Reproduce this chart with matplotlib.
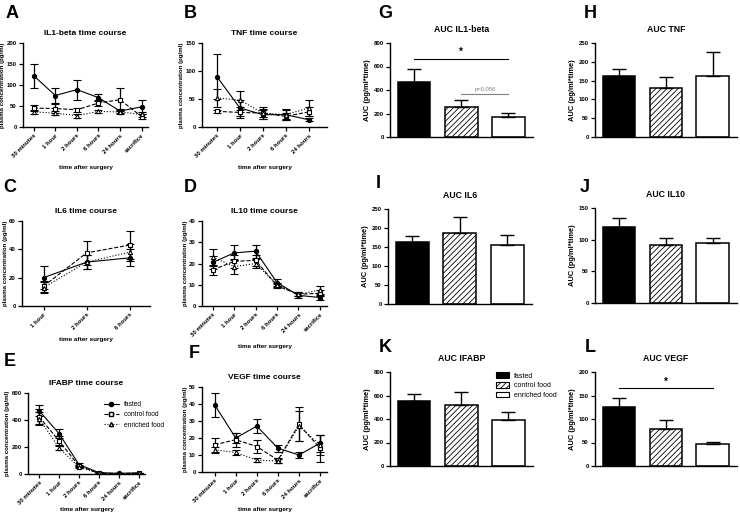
import matplotlib
matplotlib.use('Agg')
import matplotlib.pyplot as plt
from matplotlib.lines import Line2D
from matplotlib.patches import Patch
import numpy as np

plt.rcParams['font.family'] = ['Liberation Sans', 'DejaVu Sans']
plt.rcParams['font.weight'] = 'bold'
plt.rcParams['axes.titleweight'] = 'bold'
plt.rcParams['axes.labelweight'] = 'bold'
plt.rcParams['hatch.linewidth'] = 0.6

W, H = 740, 515

groups = ['fasted', 'control food', 'enriched food']
times6 = ['30 minutes', '1 hour', '2 hours', '6 hours', '24 hours', 'sacrifice']
times5 = ['30 minutes', '1 hour', '2 hours', '6 hours', '24 hours']
times3 = ['1 hour', '2 hours', '6 hours']

# time courses: mean and SEM per group (fasted, control, enriched)
il1b_mean = [[122, 75, 89, 70, 38, 48], [45, 44, 41, 57, 65, 25], [36, 33, 27, 37, 36, 30]]
il1b_err = [[29, 18, 24, 9, 5, 16], [8, 11, 5, 7, 27, 6], [4, 4, 5, 4, 5, 5]]
tnf_mean = [[90, 34, 22, 22, 13], [28, 26, 25, 19, 27], [52, 48, 25, 22, 34]]
tnf_err = [[40, 15, 8, 8, 3], [3, 10, 8, 6, 8], [16, 17, 10, 10, 14]]
il6_mean = [[20, 31, 34], [14, 37.5, 43], [13, 31, 38]]
il6_err = [[8, 5, 6], [4, 8.5, 10], [4, 5, 6]]
il10_mean = [[20.5, 25, 25.8, 11, 5, 4], [17, 21, 21.5, 9.5, 5.5, 6], [23, 18.5, 20, 10, 5.5, 7.5]]
il10_err = [[3, 3.5, 3, 1.5, 1, 1], [2.5, 3, 2.5, 1, 1, 1.5], [4, 3.5, 2, 1, 1, 2]]
ifabp_mean = [[470, 300, 70, 10, 5, 8], [425, 245, 60, 5, 3, 6], [410, 195, 50, 5, 3, 5]]
ifabp_err = [[40, 35, 10, 3, 2, 3], [55, 40, 8, 2, 2, 3], [50, 20, 8, 2, 2, 3]]
vegf_mean = [[39.5, 20, 27, 14, 10, 17], [16, 19, 15, 7, 28, 14], [13, 11.5, 7, 6.5, 27, 16]]
vegf_err = [[7, 3, 4, 2, 1.5, 5], [4, 4, 4, 1.5, 10, 8], [2, 1.5, 1, 1, 9, 6]]

# AUC bars
auc_il1b = [468, 258, 172]
auc_il1b_err = [108, 55, 32]
auc_tnf = [162, 129, 162]
auc_tnf_err = [18, 31, 64]
auc_il6 = [162, 187, 154]
auc_il6_err = [16, 42, 28]
auc_il10 = [120, 92, 94]
auc_il10_err = [15, 11, 9]
auc_ifabp = [554, 523, 395]
auc_ifabp_err = [59, 104, 63]
auc_vegf = [126, 78, 46]
auc_vegf_err = [18, 19, 6]

styles = [dict(marker='o', ls='-', mfc='black'),
          dict(marker='s', ls='--', mfc='white'),
          dict(marker='^', ls=':', mfc='white')]


def rect(x0, x1, ytop, ybot):
    return [x0 / W, 1 - ybot / H, (x1 - x0) / W, (ybot - ytop) / H]


def style_axes(ax, size=4.3):
    for s in ['top', 'right']:
        ax.spines[s].set_visible(False)
    for s in ['left', 'bottom']:
        ax.spines[s].set_linewidth(1.0)
    ax.tick_params(direction='out', length=3, width=0.9, labelsize=size, pad=1.5)


def time_course(r, labels, means, errs, ymax, ystep, title, xlim, xpad=4):
    ax = fig.add_axes(rect(*r))
    x = np.arange(len(labels))
    for m, e, st in zip(means, errs, styles):
        ax.errorbar(x, m, yerr=e, color='black', lw=0.8, ls=st['ls'],
                    marker=st['marker'], mfc=st['mfc'], mec='black', ms=3,
                    mew=0.8, capsize=3, elinewidth=0.9, capthick=0.9)
    ax.set_ylim(0, ymax)
    ax.set_yticks(np.arange(0, ymax + 1, ystep))
    ax.set_xlim(*xlim)
    ax.set_xticks(x)
    ax.set_xticklabels(labels, rotation=45, ha='right', rotation_mode='anchor',
                       fontsize=4.6, fontweight='bold')
    ax.set_ylabel('plasma concentration (pg/ml)', fontsize=4.4, labelpad=1)
    ax.set_xlabel('time after surgery', fontsize=4.6, labelpad=xpad)
    ax.set_title(title, fontsize=6, pad=6)
    style_axes(ax)
    return ax


def auc_bars(r, vals, errs, ymax, ystep, title):
    ax = fig.add_axes(rect(*r))
    x = np.arange(3)
    ax.bar(x, vals, width=0.69, color=['black', 'white', 'white'],
           edgecolor='black', linewidth=1.1, hatch=[None, '//////', None],
           yerr=[[0, 0, 0], errs], capsize=5,
           error_kw=dict(elinewidth=1.0, capthick=1.0, ecolor='black'))
    ax.set_ylim(0, ymax)
    ax.set_yticks(np.arange(0, ymax + 1, ystep))
    ax.set_xlim(-0.51, 2.52)
    ax.set_xticks([])
    ax.set_ylabel('AUC (pg/ml*time)', fontsize=5.4, labelpad=2)
    ax.set_title(title, fontsize=6.3, pad=8)
    style_axes(ax)
    return ax


fig = plt.figure(figsize=(W / 100, H / 100), dpi=100)

time_course((23, 148, 43, 127), times6, il1b_mean, il1b_err, 200, 50,
            'IL1-beta time course', (-0.5, 5.3))
time_course((202, 327, 43, 127), times5, tnf_mean, tnf_err, 150, 50,
            'TNF time course', (-0.65, 4.8))
time_course((22, 150, 221, 306), times3, il6_mean, il6_err, 60, 20,
            'IL6 time course', (-0.5, 2.47))
time_course((202, 327, 221, 306), times6, il10_mean, il10_err, 40, 10,
            'IL10 time course', (-0.5, 5.33))
axE = time_course((28, 145, 393, 474), times6, ifabp_mean, ifabp_err, 600, 200,
                  'IFABP time course', (-0.55, 5.3), xpad=1)
time_course((202, 327, 387, 472), times6, vegf_mean, vegf_err, 50, 10,
            'VEGF time course', (-0.6, 5.33), xpad=2)

handles = [Line2D([], [], color='black', lw=0.8, ls=st['ls'], marker=st['marker'],
                  mfc=st['mfc'], mec='black', ms=3) for st in styles]
axE.legend(handles, groups, loc='upper left', bbox_to_anchor=(98 / W, 1 - 395 / H),
           bbox_transform=fig.transFigure, frameon=False, handlelength=2.2,
           labelspacing=0.5, prop=dict(size=4.8, weight='normal'))

axG = auc_bars((390, 533, 43, 137), auc_il1b, auc_il1b_err, 800, 200, 'AUC IL1-beta')
axG.plot([0, 2], [667, 667], color='black', lw=0.8)
axG.text(1, 680, '*', ha='center', va='bottom', fontsize=7)
axG.plot([1, 2], [363, 363], color='grey', lw=0.8)
axG.text(1.5, 380, 'p=0.056', ha='center', va='bottom', fontsize=4.2, color='grey',
         weight='normal')

auc_bars((595, 737, 43, 137), auc_tnf, auc_tnf_err, 250, 50, 'AUC TNF')
auc_bars((388, 532, 209, 304), auc_il6, auc_il6_err, 250, 50, 'AUC IL6')
auc_bars((595, 737, 208, 303), auc_il10, auc_il10_err, 150, 50, 'AUC IL10')
axK = auc_bars((390, 533, 372, 466), auc_ifabp, auc_ifabp_err, 800, 200, 'AUC IFABP')
axL = auc_bars((595, 737, 372, 466), auc_vegf, auc_vegf_err, 200, 50, 'AUC VEGF')
axL.plot([0, 2], [165, 165], color='black', lw=0.8)
axL.text(1, 168, '*', ha='center', va='bottom', fontsize=7)

patches = [Patch(facecolor='black', edgecolor='black', lw=0.8),
           Patch(facecolor='white', edgecolor='black', hatch='//////', lw=0.8),
           Patch(facecolor='white', edgecolor='black', lw=0.8)]
axK.legend(patches, groups, loc='upper left', bbox_to_anchor=(490 / W, 1 - 366 / H),
           bbox_transform=fig.transFigure, frameon=False, handlelength=1.8,
           handleheight=0.9, labelspacing=0.35, prop=dict(size=5, weight='normal'))

# panel letters
letters = {'A': (12, 13), 'B': (190, 13), 'C': (10, 187), 'D': (190, 187),
           'E': (10, 362), 'F': (194, 354), 'G': (385, 13), 'H': (590, 13),
           'I': (378, 183), 'J': (585, 188), 'K': (385, 347), 'L': (590, 347)}
for k, (lx, ly) in letters.items():
    fig.text(lx / W, 1 - ly / H, k, fontsize=13, fontweight='bold',
             ha='center', va='center')

fig.savefig('out.png', dpi=100)
